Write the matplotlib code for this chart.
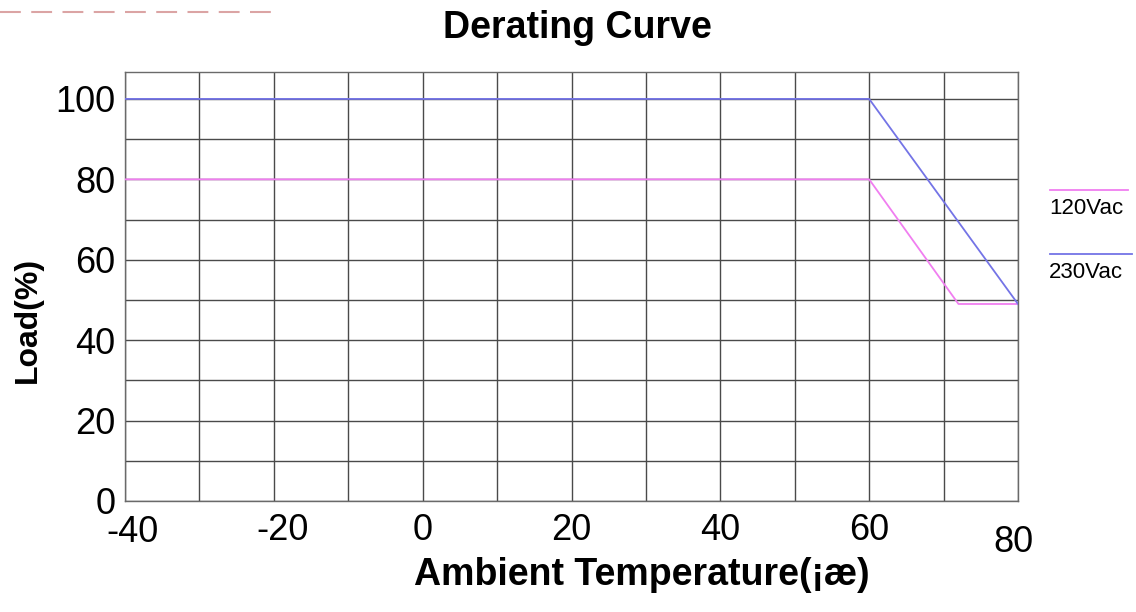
import matplotlib.pyplot as plt
from matplotlib.lines import Line2D
from matplotlib.transforms import ScaledTranslation

plt.rcParams['font.family'] = ['Liberation Sans', 'DejaVu Sans']
plt.rcParams['axes.unicode_minus'] = False

# derating curve points (temperature, load %)
temp_120 = [-40, 60, 72, 80]
load_120 = [80, 80, 49, 49]
temp_230 = [-40, 60, 80]
load_230 = [100, 100, 49]

x_ticks = [-40, -20, 0, 20, 40, 60, 80]
y_ticks = [0, 20, 40, 60, 80, 100]

fig = plt.figure(figsize=(11.36, 6.12), dpi=100)
ax = fig.add_axes([125 / 1136, 1 - 501 / 612, (1018 - 125) / 1136, (501 - 72) / 612])

ax.plot(temp_120, load_120, color='#f07ef0', lw=1.3, label='120Vac', zorder=3)
ax.plot(temp_230, load_230, color='#7474e6', lw=1.3, label='230Vac', zorder=3)

ax.set_xlim(-40, 80)
ax.set_ylim(0, 106.7)
ax.set_xticks(x_ticks)
ax.set_yticks(y_ticks)
ax.set_xticks(range(-40, 81, 10), minor=True)
ax.set_yticks(range(0, 101, 10), minor=True)
ax.grid(True, which='both', color='#4a4a4a', lw=1.0)
ax.set_axisbelow(True)
for s in ax.spines.values():
    s.set_color('#6a6a6a')
    s.set_linewidth(1.0)
ax.tick_params(which='both', length=0)
ax.tick_params(axis='y', labelsize=26, pad=7)
ax.tick_params(axis='x', labelsize=26, pad=9)

# small shifts of a few x labels, as in the original
lbls = ax.get_xticklabels()
lbls[0].set_transform(lbls[0].get_transform() + ScaledTranslation(0.08, -0.02, fig.dpi_scale_trans))
lbls[1].set_transform(lbls[1].get_transform() + ScaledTranslation(0.09, 0, fig.dpi_scale_trans))
lbls[-1].set_transform(lbls[-1].get_transform() + ScaledTranslation(-0.05, -0.12, fig.dpi_scale_trans))

fig.text(577 / 1136, 1 - 28 / 612, 'Derating Curve', ha='center', va='center',
         fontsize=27, fontweight='bold')
fig.text(642 / 1136, 1 - 575 / 612, 'Ambient Temperature(¡æ)', ha='center', va='center',
         fontsize=27, fontweight='bold')
fig.text(28 / 1136, 1 - 320 / 612, 'Load(%)', ha='center', va='center', rotation=90,
         fontsize=23, fontweight='bold')

# legend drawn as lines with text underneath
fig.add_artist(Line2D([1050 / 1136, 1128 / 1136], [1 - 190 / 612] * 2, color='#f07ef0', lw=1.3))
fig.text(1049 / 1136, 1 - 209 / 612, '120Vac', ha='left', va='center', fontsize=16)
fig.add_artist(Line2D([1050 / 1136, 1132 / 1136], [1 - 254 / 612] * 2, color='#7474e6', lw=1.3))
fig.text(1049 / 1136, 1 - 273 / 612, '230Vac', ha='left', va='center', fontsize=16)

# faint cropped remnant at top left
fig.add_artist(Line2D([0, 275 / 1136], [1 - 12 / 612] * 2, color='#dba4a4', lw=1.5,
                      linestyle=(0, (10, 5))))

fig.savefig('out.png', dpi=100)
